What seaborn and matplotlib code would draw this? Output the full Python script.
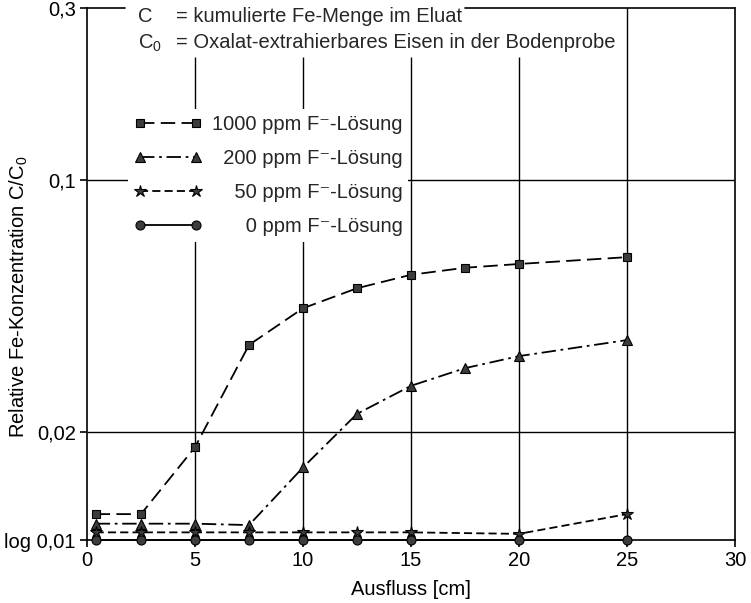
import matplotlib
matplotlib.use("Agg")
import matplotlib.pyplot as plt
import seaborn as sns

# Outflow volume [cm] and cumulative relative Fe concentration C/C0
x_1000 = [0.4, 2.5, 5, 7.5, 10, 12.5, 15, 17.5, 20, 25]
c_1000 = [0.0118, 0.0118, 0.0181, 0.0348, 0.0440, 0.0500, 0.0545, 0.0570, 0.0584, 0.0610]

x_200 = [0.4, 2.5, 5, 7.5, 10, 12.5, 15, 17.5, 20, 25]
c_200 = [0.0111, 0.0111, 0.0111, 0.0110, 0.0159, 0.0224, 0.0268, 0.0300, 0.0324, 0.0359]

x_50 = [0.4, 2.5, 5, 7.5, 10, 12.5, 15, 20, 25]
c_50 = [0.0105, 0.0105, 0.0105, 0.0105, 0.0105, 0.0105, 0.0105, 0.0104, 0.0118]

x_0 = [0.4, 2.5, 5, 7.5, 10, 12.5, 15, 20, 25]
c_0 = [0.0100, 0.0100, 0.0100, 0.0100, 0.0100, 0.0100, 0.0100, 0.0100, 0.0100]

series_labels = ["1000 ppm F\u207b-Lösung",
                 "\u2007200 ppm F\u207b-Lösung",
                 "\u2007\u200750 ppm F\u207b-Lösung",
                 "\u2007\u2007\u20070 ppm F\u207b-Lösung"]

y_ticks = [0.01, 0.02, 0.1, 0.3]
y_tick_labels = ["log 0,01", "0,02", "0,1", "0,3"]
x_ticks = [0, 5, 10, 15, 20, 25, 30]
x_tick_labels = ["0", "5", "10", "15", "20", "25", "30"]

sns.set_theme(style="ticks")
plt.rcParams["font.family"] = ["Liberation Sans", "DejaVu Sans"]
plt.rcParams["mathtext.fontset"] = "custom"
plt.rcParams["mathtext.rm"] = "Liberation Sans"
plt.rcParams["mathtext.it"] = "Liberation Sans"

FS = 14.5
W, H = 751, 603
fig = plt.figure(figsize=(W / 100, H / 100), dpi=100)
fig.patch.set_facecolor("white")
L, R, B, T = 87, 735, 540, 8
ax = fig.add_axes([L / W, 1 - B / H, (R - L) / W, (B - T) / H])
ax.set_facecolor("white")

styles = [
    (x_1000, c_1000, "s", 5.5, (0, (8, 3.5))),
    (x_200, c_200, "^", 6.5, (0, (8, 2.6, 1.5, 2.6))),
    (x_50, c_50, "*", 9.0, (0, (4.5, 2.3))),
    (x_0, c_0, "o", 6.5, "-"),
]

lines = []
for xs, ys, mk, ms, ls in styles:
    n_before = len(ax.lines)
    sns.lineplot(x=xs, y=ys, ax=ax, color="black", marker=mk, markersize=ms,
                 markerfacecolor="#3c3c3c", markeredgecolor="black",
                 markeredgewidth=0.8, linewidth=1.3, linestyle=ls,
                 estimator=None, sort=False, legend=False, clip_on=False,
                 zorder=4)
    lines.append(ax.lines[n_before])

ax.set_yscale("log")
ax.set_xlim(0, 30)
ax.set_ylim(0.01, 0.3)
ax.set_yticks(y_ticks)
ax.set_yticklabels(y_tick_labels)
ax.yaxis.set_minor_locator(matplotlib.ticker.NullLocator())
ax.set_xticks(x_ticks)
ax.set_xticklabels(x_tick_labels)
ax.tick_params(axis="both", direction="out", length=5, width=1.2,
               colors="black", labelsize=FS, pad=3)

# frame: top edge broken where the header text sits
for side in ["left", "right", "bottom"]:
    ax.spines[side].set_color("black")
    ax.spines[side].set_linewidth(1.2)
ax.spines["top"].set_visible(False)
ax.plot([0, 0.058], [1, 1], transform=ax.transAxes, color="black",
        lw=1.2, clip_on=False)
ax.plot([0.584, 1], [1, 1], transform=ax.transAxes, color="black",
        lw=1.2, clip_on=False)

# grid
ax.vlines([5, 10, 15, 20], 0.01, 0.219, color="black", lw=1.0, zorder=1)
ax.vlines([25], 0.01, 0.3, color="black", lw=1.0, zorder=1)
ax.hlines([0.02, 0.1], 0, 30, color="black", lw=1.0, zorder=1)

ax.set_xlabel("Ausfluss [cm]", fontsize=FS, color="black")
ax.set_ylabel("Relative Fe-Konzentration C/C$_0$", fontsize=FS, color="black")
ax.xaxis.set_label_coords(0.5, -0.075)
ax.yaxis.set_label_coords(-0.088, 0.457)

# header with symbol definitions
fig.text(138 / W, 1 - 17 / H, "C", fontsize=FS, va="center", ha="left")
fig.text(176 / W, 1 - 17 / H, "= kumulierte Fe-Menge im Eluat",
         fontsize=FS, va="center", ha="left")
fig.text(138 / W, 1 - 43 / H, "C$_0$", fontsize=FS, va="center", ha="left")
fig.text(176 / W, 1 - 43 / H, "= Oxalat-extrahierbares Eisen in der Bodenprobe",
         fontsize=FS, va="center", ha="left")

leg = ax.legend(handles=lines, labels=series_labels, loc="upper left",
                bbox_to_anchor=((128 - L) / (R - L), (B - 109) / (B - T)),
                frameon=True, fancybox=False, facecolor="white",
                edgecolor="none", framealpha=1, fontsize=FS, numpoints=2,
                handlelength=3.4, handletextpad=0.45, labelspacing=0.74,
                borderpad=0.3, borderaxespad=0)
leg.set_zorder(5)

fig.savefig("out.png", dpi=100, facecolor="white")
